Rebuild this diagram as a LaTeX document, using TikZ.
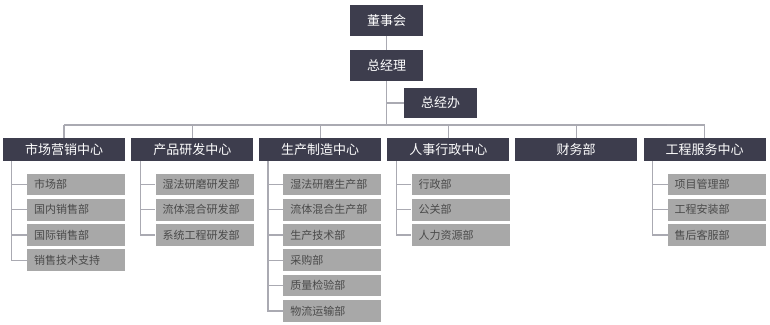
\documentclass[tikz,border=0pt]{standalone}
\usepackage{fontspec}
\setmainfont{Noto Sans CJK SC}
\usetikzlibrary{positioning,calc}
\definecolor{boxdark}{RGB}{61,61,77}
\definecolor{boxgrey}{RGB}{168,168,168}
\definecolor{linegrey}{RGB}{170,170,178}
\definecolor{textgrey}{RGB}{74,74,74}

\begin{document}
\begin{tikzpicture}[x=1pt,y=-1pt,
  topbox/.style={fill=boxdark,text=white,minimum width=73pt,minimum height=31pt,
                 inner sep=0pt,font=\fontsize{13}{15}\selectfont},
  centerbox/.style={fill=boxdark,text=white,minimum width=122pt,minimum height=23pt,
                    inner sep=0pt,font=\fontsize{13}{15}\selectfont},
  subbox/.style={fill=boxgrey,text=textgrey,text width=84pt,align=left,inner xsep=7pt,
                 inner ysep=0pt,minimum height=21.7pt,font=\fontsize{11}{13}\selectfont},
  link/.style={draw=linegrey,line width=1.2pt}]
\useasboundingbox (0,0) rectangle (770,324);
% top
\node[topbox] (board) at (386.5,20.5) {董事会};
\node[topbox] (gm) at (386.5,65.5) {总经理};
\node[topbox,minimum height=30pt] (office) at (440.5,103) {总经办};
\coordinate (bus) at (386.5,125);
\draw[link] (board) -- (gm);
\draw[link] (gm) -- (bus);
\draw[link] (gm.south |- office) -- (office);
% centers
\foreach \i/\cx/\lbl in {1/64/市场营销中心, 2/192.3/产品研发中心, 3/320.2/生产制造中心,
                         4/448.3/人事行政中心, 5/576.2/财务部, 6/704.5/工程服务中心}{
  \node[centerbox] (c\i) at (\cx,149.5) {\lbl};
  \draw[link] (c\i.north) -- (c\i.north |- bus);
}
\draw[link] (c1.north |- bus) -- (c6.north |- bus);
% sub departments
\foreach \s [count=\j] in {市场部,国内销售部,国际销售部,销售技术支持}{
  \node[subbox] (m\j) at ($(c1.south east)+(-49,-2.1+25.3*\j)$) {\s};
  \draw[link] ($(c1.south west)+(9,0)$) |- (m\j.west);
}
\foreach \s [count=\j] in {湿法研磨研发部,流体混合研发部,系统工程研发部}{
  \node[subbox] (r\j) at ($(c2.south east)+(-49,-2.1+25.3*\j)$) {\s};
  \draw[link] ($(c2.south west)+(9,0)$) |- (r\j.west);
}
\foreach \s [count=\j] in {湿法研磨生产部,流体混合生产部,生产技术部,采购部,质量检验部,物流运输部}{
  \node[subbox] (p\j) at ($(c3.south east)+(-49,-2.1+25.3*\j)$) {\s};
  \draw[link] ($(c3.south west)+(9,0)$) |- (p\j.west);
}
\foreach \s [count=\j] in {行政部,公关部,人力资源部}{
  \node[subbox] (h\j) at ($(c4.south east)+(-49,-2.1+25.3*\j)$) {\s};
  \draw[link] ($(c4.south west)+(9,0)$) |- (h\j.west);
}
\foreach \s [count=\j] in {项目管理部,工程安装部,售后客服部}{
  \node[subbox] (e\j) at ($(c6.south east)+(-49,-2.1+25.3*\j)$) {\s};
  \draw[link] ($(c6.south west)+(9,0)$) |- (e\j.west);
}
\end{tikzpicture}
\end{document}
